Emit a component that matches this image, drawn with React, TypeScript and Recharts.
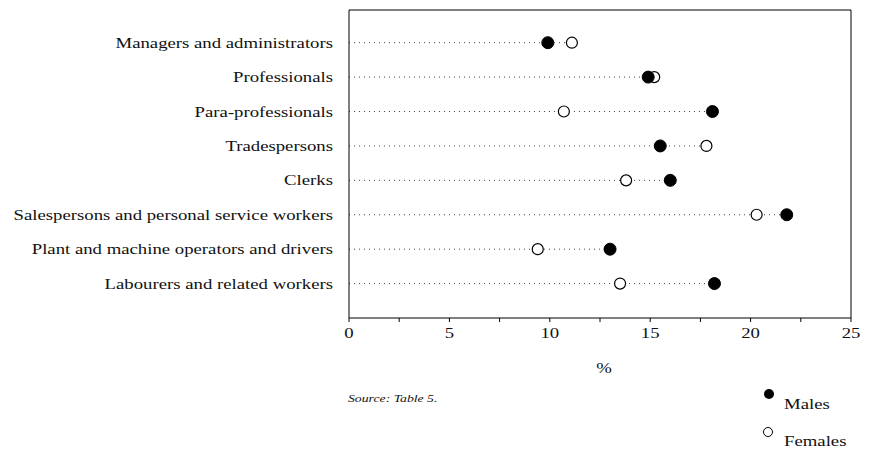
import React from "react";
import {
  ScatterChart,
  Scatter,
  XAxis,
  YAxis,
  ReferenceLine,
  Legend,
  Label,
} from "recharts";

const categories = [
  "Managers and administrators",
  "Professionals",
  "Para-professionals",
  "Tradespersons",
  "Clerks",
  "Salespersons and personal service workers",
  "Plant and machine operators and drivers",
  "Labourers and related workers",
];
const males = [9.9, 14.9, 18.1, 15.5, 16.0, 21.8, 13.0, 18.2];
const females = [11.1, 15.2, 10.7, 17.8, 13.8, 20.3, 9.4, 13.5];
const xTicks = [0, 2.5, 5, 7.5, 10, 12.5, 15, 17.5, 20, 22.5, 25];
const xLabels = [0, 5, 10, 15, 20, 25];
const seriesNames = ["Males", "Females"];
const sourceNote = "Source:  Table 5.";
const axisTitle = "%";

const maleData = categories.map((c, i) => ({ x: males[i], y: i, name: c }));
const femaleData = categories.map((c, i) => ({ x: females[i], y: i, name: c }));
const rowIdx = categories.map((_, i) => i);

const FONT = "Liberation Serif";
const INK = "#111";
const STRETCH = "scale(1.25,1)";

const CatTick = (props: any) => {
  const { x, y, payload } = props;
  return (
    <g transform={`translate(${x},${y})`}>
      <text transform={STRETCH} textAnchor="end" dy={5} fontFamily={FONT} fontSize={15} fill={INK}>
        {categories[payload.value]}
      </text>
    </g>
  );
};

const NumTick = (props: any) => {
  const { x, y, payload } = props;
  if (!xLabels.includes(payload.value)) return <g />;
  return (
    <g transform={`translate(${x},${y})`}>
      <text transform={STRETCH} textAnchor="middle" dy={12} fontFamily={FONT} fontSize={15} fill={INK}>
        {payload.value}
      </text>
    </g>
  );
};

const TitleLabel = (props: any) => {
  const vb = props.viewBox || { x: 0, y: 0, width: 0, height: 0 };
  const cx = vb.x + vb.width / 2 + 4;
  const by = vb.y + vb.height - 5;
  return (
    <g transform={`translate(${cx},${by})`}>
      <text transform={STRETCH} textAnchor="middle" fontFamily={FONT} fontSize={15} fill={INK}>
        {axisTitle}
      </text>
    </g>
  );
};

const MaleDot = (props: any) => (
  <circle cx={props.cx} cy={props.cy} r={6} fill="#000" stroke="#000" strokeWidth={1} />
);
const FemaleDot = (props: any) => (
  <circle cx={props.cx} cy={props.cy} r={5.5} fill="#fff" stroke="#000" strokeWidth={1.2} />
);

const LegendContent = () => (
  <svg width={875} height={452} style={{ position: "absolute", left: 0, top: 0, pointerEvents: "none" }}>
    <g transform="translate(348,402)">
      <text transform={STRETCH} fontFamily={FONT} fontStyle="italic" fontSize={11} fill={INK}>
        {sourceNote}
      </text>
    </g>
    <circle cx={769} cy={394} r={5} fill="#000" />
    <g transform="translate(784,409)">
      <text transform={STRETCH} fontFamily={FONT} fontSize={15} fill={INK}>
        {seriesNames[0]}
      </text>
    </g>
    <circle cx={768} cy={432} r={4.5} fill="#fff" stroke="#000" strokeWidth={1} />
    <g transform="translate(784,446)">
      <text transform={STRETCH} fontFamily={FONT} fontSize={15} fill={INK}>
        {seriesNames[1]}
      </text>
    </g>
  </svg>
);

export default function App() {
  return (
    <div style={{ position: "absolute", left: 0, top: 0, width: 875, height: 452, background: "#fff" }}>
      <ScatterChart width={875} height={452} margin={{ top: 0, right: 0, bottom: 74, left: 0 }}>
        <XAxis
          xAxisId="top"
          orientation="top"
          type="number"
          domain={[0, 25]}
          ticks={xTicks}
          height={10}
          tick={false}
          tickSize={3}
          stroke="#000"
          allowDataOverflow
        />
        <XAxis
          type="number"
          dataKey="x"
          domain={[0, 25]}
          ticks={xTicks}
          height={60}
          tickSize={4}
          tickMargin={4}
          tick={<NumTick />}
          stroke="#000"
          interval={0}
        >
          <Label content={<TitleLabel />} position="insideBottom" />
        </XAxis>
        <YAxis
          type="number"
          dataKey="y"
          domain={[-0.95, 8]}
          reversed
          ticks={rowIdx}
          interval={0}
          width={349}
          tickLine={false}
          tickSize={0}
          tickMargin={16}
          tick={<CatTick />}
          stroke="#000"
          allowDataOverflow
        />
        <YAxis
          yAxisId="right"
          orientation="right"
          type="number"
          domain={[-0.95, 8]}
          reversed
          width={24}
          tick={false}
          tickLine={false}
          stroke="#000"
        />
        {rowIdx.map((i) => (
          <ReferenceLine
            key={i}
            segment={[
              { x: 0, y: i },
              { x: Math.max(males[i], females[i]), y: i },
            ]}
            stroke="#444"
            strokeWidth={1}
            strokeDasharray="1 4"
            ifOverflow="visible"
          />
        ))}
        <Scatter name={seriesNames[1]} data={femaleData} shape={<FemaleDot />} isAnimationActive={false} />
        <Scatter name={seriesNames[0]} data={maleData} shape={<MaleDot />} isAnimationActive={false} />
        <Legend
          layout="horizontal"
          verticalAlign="middle"
          align="center"
          content={<LegendContent />}
          wrapperStyle={{ position: "absolute", left: 0, top: 0, width: 875, height: 452 }}
        />
      </ScatterChart>
    </div>
  );
}
